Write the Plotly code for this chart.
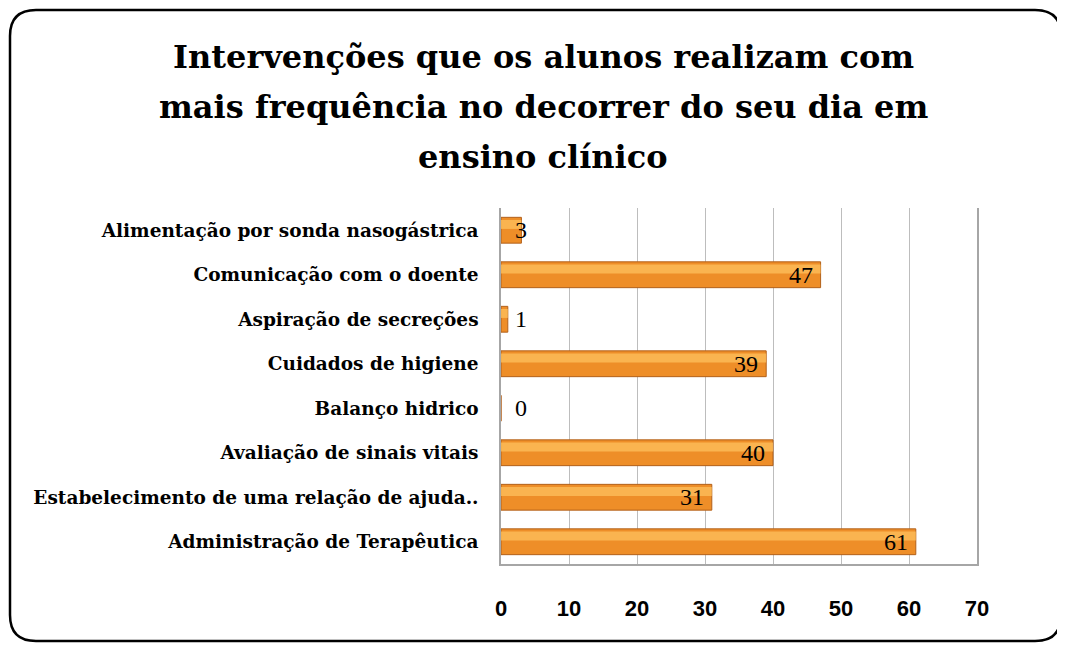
import plotly.graph_objects as go

categories = [
    "Administração de Terapêutica",
    "Estabelecimento de uma relação de ajuda..",
    "Avaliação de sinais vitais",
    "Balanço hidrico",
    "Cuidados de higiene",
    "Aspiração de secreções",
    "Comunicação com o doente",
    "Alimentação por sonda nasogástrica",
]
values = [61, 31, 40, 0, 39, 1, 47, 3]
x_ticks = [0, 10, 20, 30, 40, 50, 60, 70]
title_lines = [
    "Intervenções que os alunos realizam com",
    "mais frequência no decorrer do seu dia em",
    "ensino clínico",
]

W, H = 1065, 645
OFF = 8  # page body margin offset
ML, MT = 501 - OFF, 208 - OFF
MR = W - (977 - OFF)
MB = H - (564 - OFF)
pw, ph = W - ML - MR, H - MT - MB


def px(x):
    return (x - OFF - ML) / pw


def py(y):
    return (H - MB - (y - OFF)) / ph


fig = go.Figure()
fig.add_trace(go.Bar(
    y=categories, x=values, orientation="h",
    marker=dict(color="#EE8E28", line=dict(color="#B2601A", width=1)),
    width=0.58, hoverinfo="x+y",
))
# highlight strip
fig.add_trace(go.Bar(
    y=categories, x=values, orientation="h",
    marker=dict(color="rgba(253,190,90,0.8)", line=dict(width=0)),
    width=0.2, offset=0.03, hoverinfo="skip",
))

annotations = []
lab_font = dict(family="Liberation Serif", size=24, color="black")
for c, v in zip(categories, values):
    if v >= 5:
        annotations.append(dict(x=v, y=c, xref="x", yref="y", text=str(v),
                                showarrow=False, xanchor="right", xshift=-6,
                                font=lab_font))
    else:
        annotations.append(dict(x=3, y=c, xref="x", yref="y", text=str(v),
                                showarrow=False, xanchor="center",
                                font=lab_font))

for i, t in enumerate(title_lines):
    annotations.append(dict(x=px(543), y=py(57 + 50 * i), xref="paper", yref="paper",
                            text="<b>" + t + "</b>", showarrow=False,
                            xanchor="center", yanchor="middle",
                            font=dict(family="DejaVu Serif", size=32, color="black")))

L, R, T, B = 10, 1061, 10, 641
r = 26
path = (
    f"M {px(L+r)},{py(T)} L {px(R-r)},{py(T)} Q {px(R)},{py(T)} {px(R)},{py(T+r)} "
    f"L {px(R)},{py(B-r)} Q {px(R)},{py(B)} {px(R-r)},{py(B)} "
    f"L {px(L+r)},{py(B)} Q {px(L)},{py(B)} {px(L)},{py(B-r)} "
    f"L {px(L)},{py(T+r)} Q {px(L)},{py(T)} {px(L+r)},{py(T)} Z"
)

fig.update_layout(
    width=W, height=H,
    margin=dict(l=ML, r=MR, t=MT, b=MB),
    paper_bgcolor="white", plot_bgcolor="white",
    showlegend=False, barmode="overlay",
    annotations=annotations,
    shapes=[dict(type="path", path=path, xref="paper", yref="paper",
                 line=dict(color="black", width=2.5), layer="above")],
    xaxis=dict(range=[0, 70], tickvals=x_ticks, ticktext=[str(t) for t in x_ticks],
               showgrid=True, gridcolor="#BDBDBD", gridwidth=1,
               showline=True, linecolor="#A6A6A6", linewidth=1.5,
               zeroline=False, ticks="", ticklabelstandoff=24,
               tickfont=dict(family="Liberation Sans", size=22, color="black", weight="bold"),
               fixedrange=True),
    yaxis=dict(categoryorder="array", categoryarray=categories,
               showline=True, mirror=True, linecolor="#A6A6A6", linewidth=1.5,
               showgrid=False, ticks="", ticklabelstandoff=17,
               tickfont=dict(family="DejaVu Serif", size=18.5, color="black", weight="bold"),
               fixedrange=True),
)

fig.write_html("out.html")
